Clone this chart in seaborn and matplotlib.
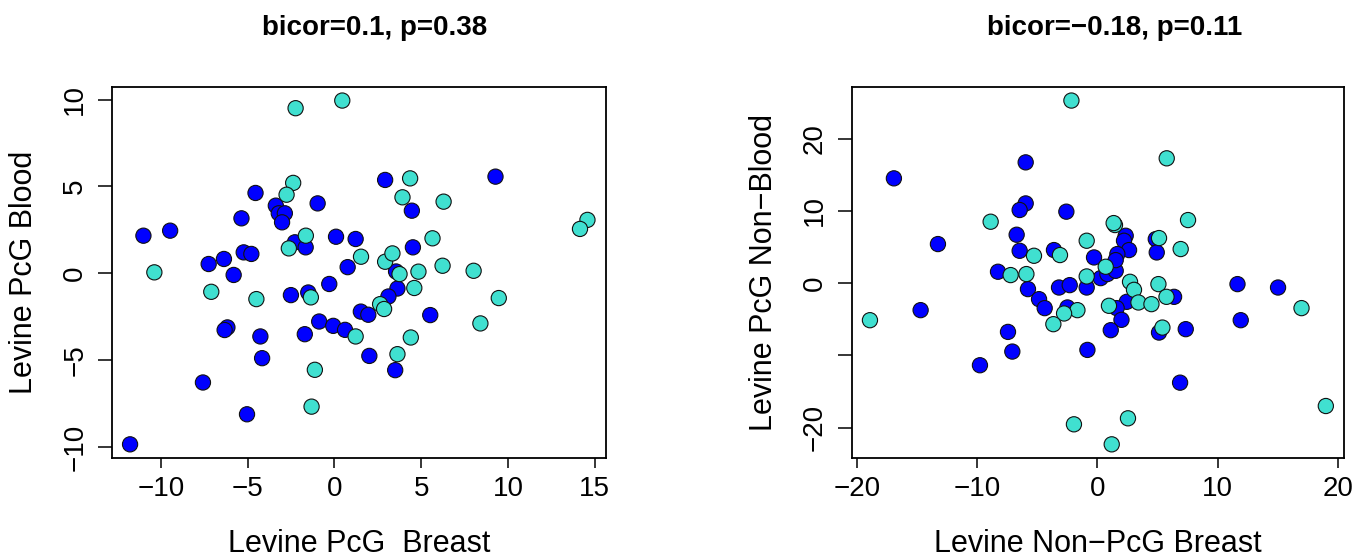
import pandas as pd
import matplotlib
matplotlib.use("Agg")
import matplotlib.pyplot as plt
import seaborn as sns

MINUS = "\u2212"

# left panel: Levine PcG Breast vs Levine PcG Blood
left_blue_x = [-4.55, -3.38, -3.21, -2.86, -3.02, -0.97, -5.36, -11.01, -9.47, -2.28,
               -1.66, 0.09, 1.22, 0.76, -5.23, -4.79, -6.37, -7.25, -5.81, 2.92,
               4.46, 9.28, 4.52, 3.55, -2.51, -1.51, -0.30, 1.52, 1.95, -6.17,
               -6.33, -4.27, -4.17, -1.71, -0.88, -0.07, 0.61, -7.58, -5.04, -11.78,
               3.63, 3.11, 5.52, 2.01, 3.50]
left_blue_y = [4.62, 3.89, 3.45, 3.45, 2.93, 4.02, 3.16, 2.16, 2.45, 1.78,
               1.49, 2.10, 1.97, 0.35, 1.20, 1.11, 0.82, 0.53, -0.10, 5.37,
               3.60, 5.56, 1.49, 0.10, -1.26, -1.11, -0.62, -2.21, -2.39, -3.12,
               -3.27, -3.64, -4.89, -3.51, -2.78, -3.03, -3.26, -6.29, -8.12, -9.85,
               -0.88, -1.34, -2.41, -4.76, -5.58]
left_cyan_x = [-2.24, 0.45, -2.38, -2.76, -1.65, -2.63, 1.53, -10.38, 4.36, 3.92,
               6.29, 14.58, 14.15, 2.92, 3.34, 5.65, 3.75, 4.84, 6.23, 8.02,
               -7.10, -4.50, -1.36, 1.22, -1.13, -1.32, 4.60, 2.63, 2.86, 9.47,
               8.41, 3.63, 4.40]
left_cyan_y = [9.50, 9.94, 5.20, 4.52, 2.16, 1.43, 0.95, 0.05, 5.46, 4.37,
               4.12, 3.07, 2.55, 0.66, 1.14, 2.01, -0.05, 0.09, 0.43, 0.14,
               -1.07, -1.49, -1.39, -3.64, -5.56, -7.68, -0.85, -1.78, -2.06, -1.43,
               -2.89, -4.66, -3.70]

# right panel: Levine Non-PcG Breast vs Levine PcG Non-Blood
right_blue_x = [-5.96, -16.91, -5.96, -6.46, -2.58, -6.71, -13.25, -6.46, -3.61, -0.28,
                -8.26, 0.27, 0.83, 1.52, 2.35, 2.21, 2.63, 4.85, 4.93, 1.66,
                1.52, 11.64, 15.01, -0.89, -3.19, -2.30, -5.77, 6.37, 2.44, 1.60,
                -4.85, -4.38, -2.49, 2.00, 1.11, 5.12, 7.34, 11.91, -7.43, -7.07,
                -14.69, -9.76, -0.83, 6.87]
right_blue_y = [16.70, 14.49, 11.02, 10.11, 9.88, 6.69, 5.40, 4.47, 4.57, 3.55,
                1.57, 0.69, 1.25, 1.70, 6.55, 5.86, 4.57, 6.09, 4.24, 4.02,
                3.18, -0.14, -0.61, -0.61, -0.61, -0.28, -0.83, -1.90, -2.59, -3.46,
                -2.22, -3.46, -3.37, -5.08, -6.51, -6.84, -6.37, -5.13, -6.75, -9.47,
                -3.74, -11.36, -9.24, -13.77]
right_cyan_x = [-2.16, 5.76, -8.87, 1.46, 1.35, 7.53, -0.89, 6.92, 5.12, -5.27,
                -3.11, -7.21, -5.90, 0.69, -0.89, 2.71, 3.04, 5.07, 5.74, 3.41,
                4.49, 0.96, -1.66, -2.77, -3.66, 5.40, 16.96, -18.90, -1.95, 18.98,
                2.54, 1.19]
right_cyan_y = [25.25, 17.26, 8.49, 8.03, 8.30, 8.72, 5.86, 4.71, 6.23, 3.78,
                3.88, 1.11, 1.25, 2.26, 0.92, 0.18, -0.93, -0.14, -1.90, -2.68,
                -2.91, -3.14, -3.74, -4.20, -5.68, -6.15, -3.46, -5.13, -19.53, -17.00,
                -18.70, -22.30]

left_xticks = [-10, -5, 0, 5, 10, 15]
left_yticks = [-10, -5, 0, 5, 10]
right_xticks = [-20, -10, 0, 10, 20]
right_yticks = [-20, -10, 0, 10, 20]
right_ylabels = [MINUS + "20", "", "0", "10", "20"]

sns.set_style("white")
plt.rcParams["font.family"] = ["Liberation Sans", "DejaVu Sans"]
plt.rcParams["axes.unicode_minus"] = True
for key in ["text.color", "axes.labelcolor", "xtick.color", "ytick.color", "axes.edgecolor"]:
    plt.rcParams[key] = "black"


def make_df(bx, by, cx, cy):
    return pd.DataFrame({
        "x": bx + cx,
        "y": by + cy,
        "group": ["blue"] * len(bx) + ["cyan"] * len(cx),
    })


palette = {"blue": "#0000FF", "cyan": "#40E0D0"}

fig = plt.figure(figsize=(13.68, 5.6), dpi=100)
ax1 = fig.add_axes([0.0817, 0.182, 0.3611, 0.663])
ax2 = fig.add_axes([0.6226, 0.182, 0.3599, 0.663])

panels = [
    (ax1, make_df(left_blue_x, left_blue_y, left_cyan_x, left_cyan_y),
     "bicor=0.1, p=0.38", "Levine PcG  Breast", "Levine PcG Blood",
     left_xticks, left_yticks, None),
    (ax2, make_df(right_blue_x, right_blue_y, right_cyan_x, right_cyan_y),
     "bicor=" + MINUS + "0.18, p=0.11", "Levine Non" + MINUS + "PcG Breast",
     "Levine PcG Non" + MINUS + "Blood", right_xticks, right_yticks, right_ylabels),
]

for ax, df, title, xlab, ylab, xt, yt, ytl in panels:
    sns.scatterplot(data=df, x="x", y="y", hue="group", palette=palette,
                    s=120, edgecolor="#111111", linewidth=0.8, legend=False, ax=ax)
    ax.margins(x=0.04, y=0.04)
    ax.set_xticks(xt)
    ax.set_yticks(yt)
    if ytl is not None:
        ax.set_yticklabels(ytl)
    ax.tick_params(axis="x", length=7, width=1.1, pad=6, labelsize=20,
                   bottom=True, color="black", labelcolor="black")
    ax.tick_params(axis="y", length=10, width=1.1, pad=7, labelsize=20,
                   left=True, color="black", labelcolor="black", labelrotation=90)
    for t in ax.get_yticklabels():
        t.set_va("center")
    for sp in ax.spines.values():
        sp.set_linewidth(1.3)
        sp.set_color("black")
    ax.set_title(title, fontsize=20, fontweight="bold", pad=37, color="black", x=0.533)
    ax.set_xlabel(xlab, fontsize=22, color="black")
    ax.set_ylabel(ylab, fontsize=22, color="black")
    ax.xaxis.label.set_va("baseline")
    ax.xaxis.set_label_coords(0.5, -0.252)
    ax.yaxis.label.set_va("center")
    ax.yaxis.set_label_coords(-0.178, 0.5)

fig.savefig("out.png", dpi=100)
